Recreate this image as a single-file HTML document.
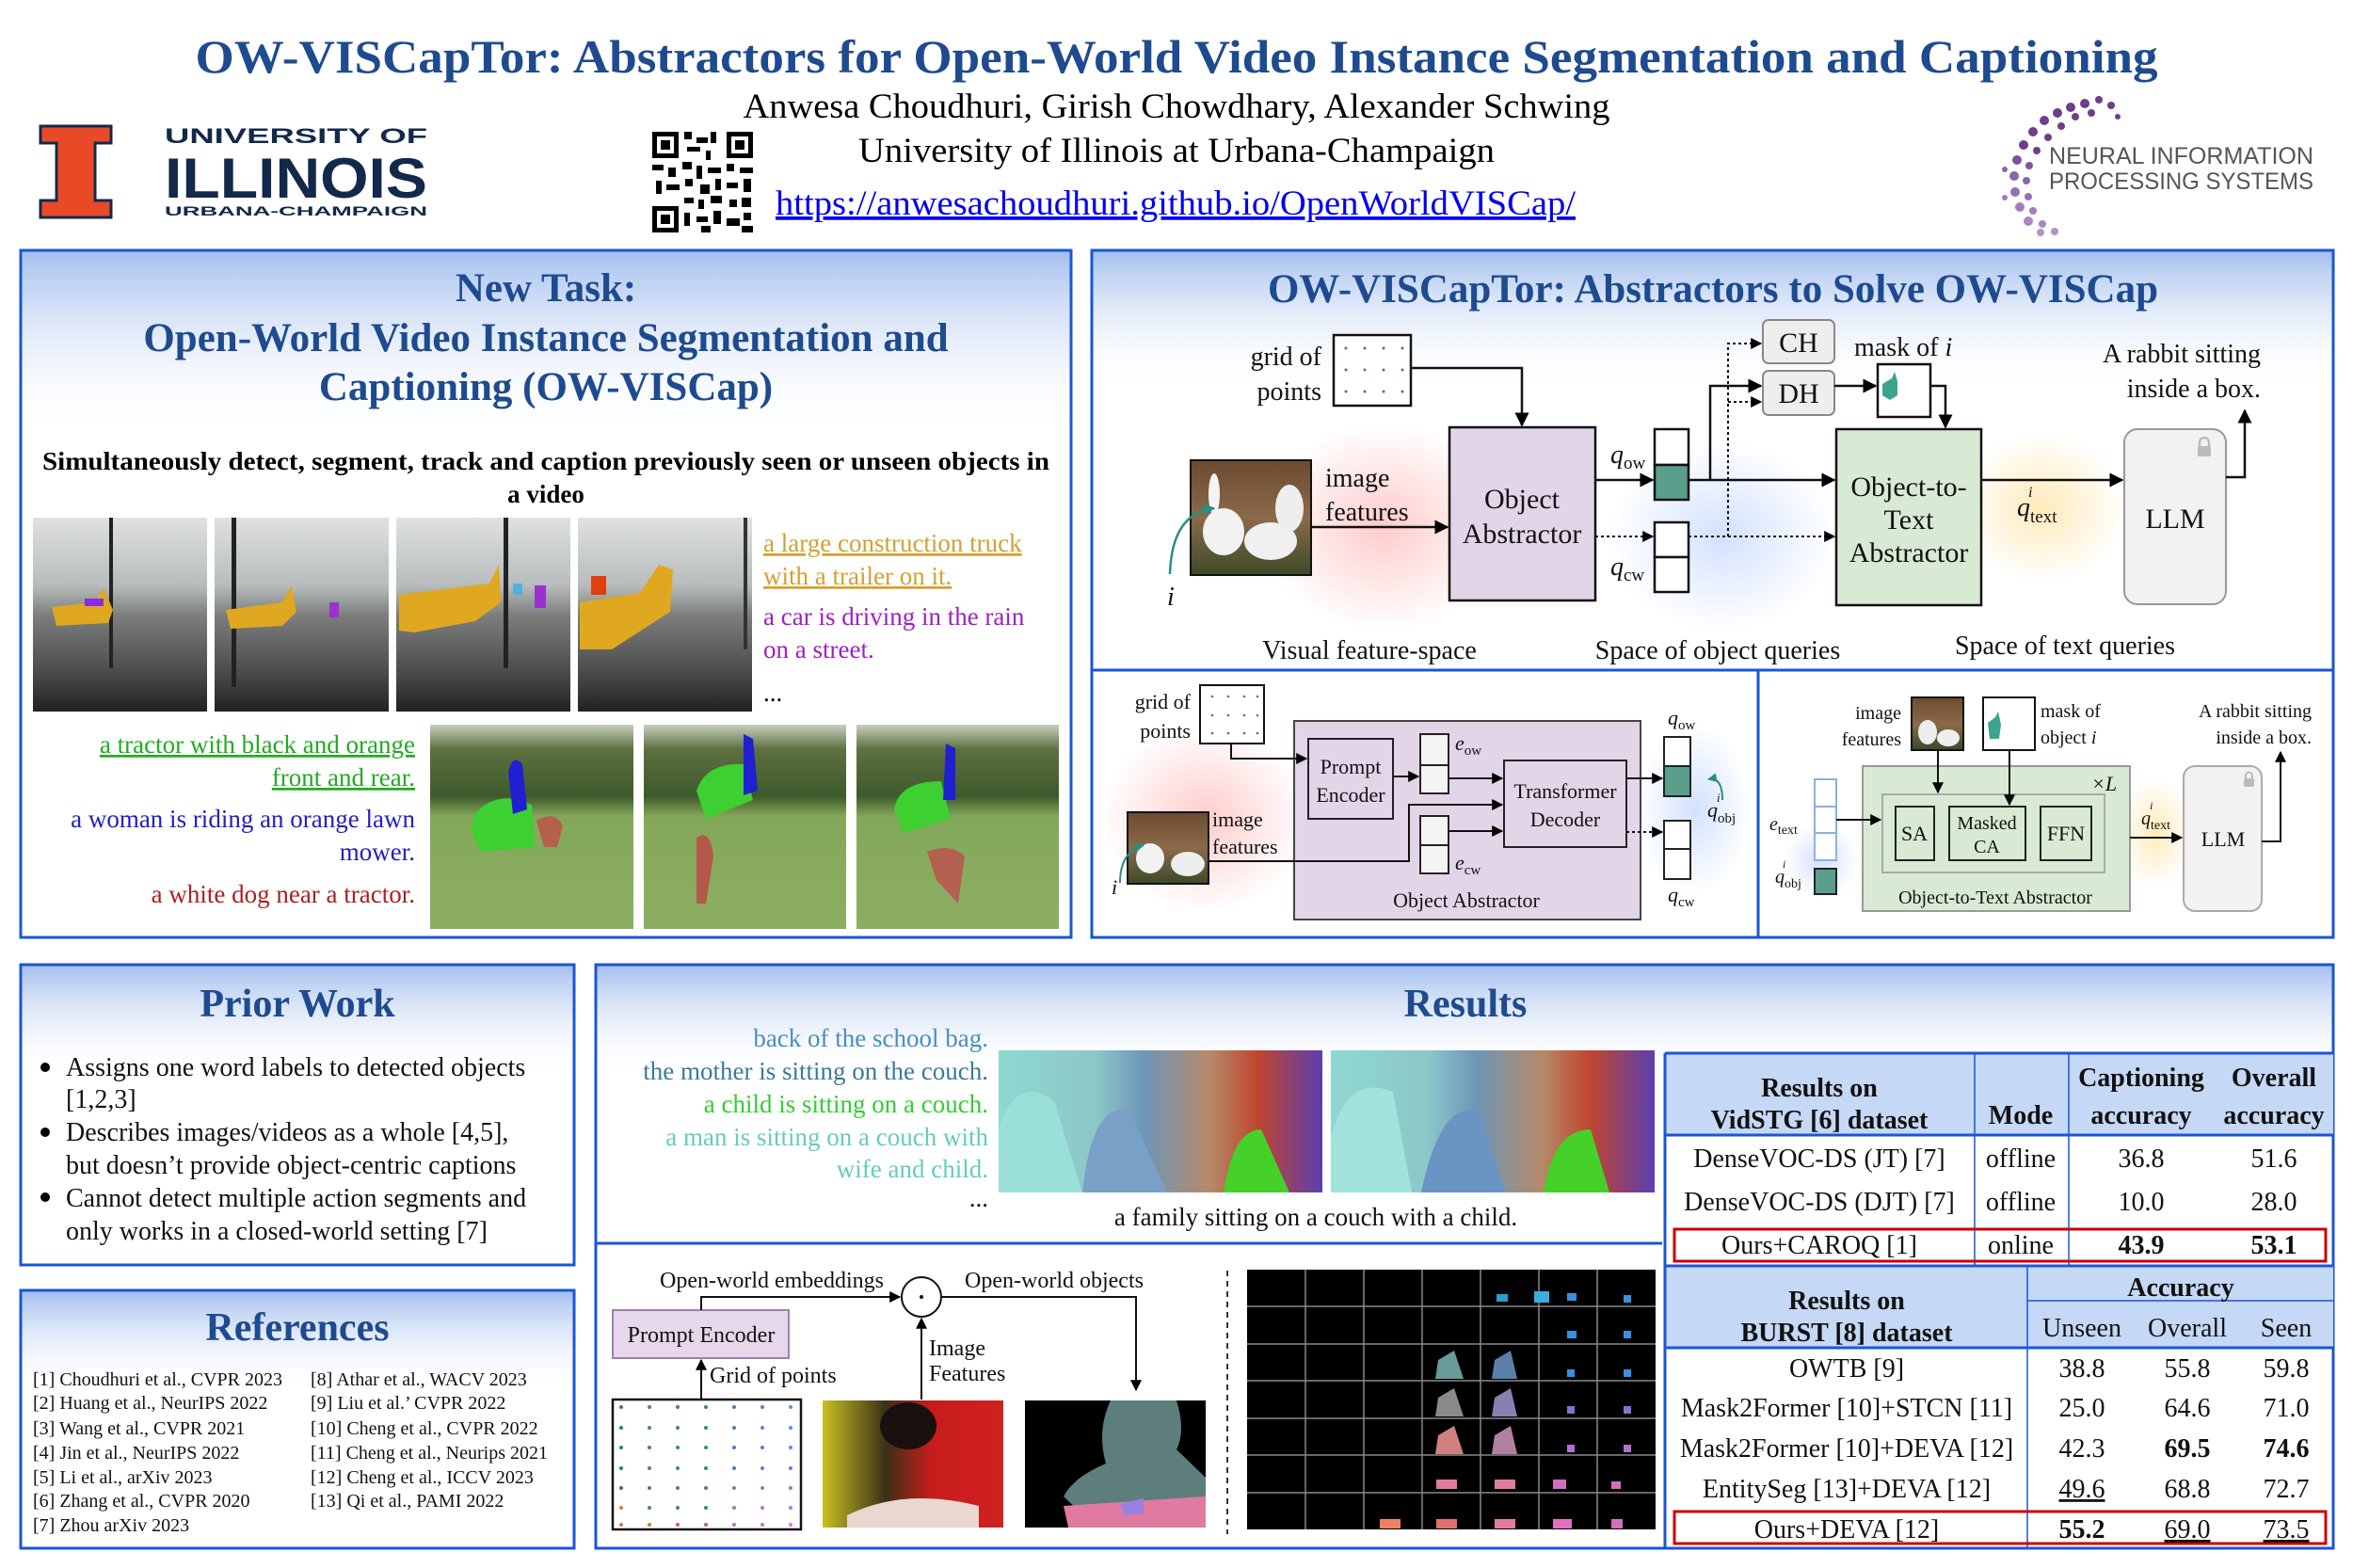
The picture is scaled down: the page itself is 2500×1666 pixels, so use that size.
<!DOCTYPE html>
<html><head><meta charset="utf-8"><style>html,body{margin:0;padding:0;background:#fff;}svg{display:block}</style></head>
<body>
<svg width="2500" height="1666" viewBox="0 0 2500 1666" xmlns="http://www.w3.org/2000/svg" font-family="'Liberation Serif', serif">
<defs>
<linearGradient id="hd" x1="0" y1="0" x2="0" y2="1"><stop offset="0" stop-color="#a3bfee"/><stop offset="1" stop-color="#fff" stop-opacity="0"/></linearGradient>
<marker id="ar" viewBox="0 0 10 10" refX="9" refY="5" markerWidth="6" markerHeight="6" orient="auto-start-reverse"><path d="M0,0 L10,5 L0,10 z" fill="#000"/></marker>
<marker id="art" viewBox="0 0 10 10" refX="9" refY="5" markerWidth="5" markerHeight="5" orient="auto"><path d="M0,0 L10,5 L0,10 z" fill="#2a8f80"/></marker>
<radialGradient id="rg"><stop offset="0" stop-color="#ff6b6b" stop-opacity="0.35"/><stop offset="1" stop-color="#ff6b6b" stop-opacity="0"/></radialGradient>
<radialGradient id="bg"><stop offset="0" stop-color="#6b9bff" stop-opacity="0.3"/><stop offset="1" stop-color="#6b9bff" stop-opacity="0"/></radialGradient>
<radialGradient id="yg"><stop offset="0" stop-color="#ffcc55" stop-opacity="0.4"/><stop offset="1" stop-color="#ffcc55" stop-opacity="0"/></radialGradient>
<linearGradient id="street" x1="0" y1="0" x2="0" y2="1"><stop offset="0" stop-color="#dfe1e2"/><stop offset="0.35" stop-color="#b8bcbc"/><stop offset="0.5" stop-color="#7c7f7d"/><stop offset="0.8" stop-color="#4a4c4c"/><stop offset="1" stop-color="#202222"/></linearGradient>
<linearGradient id="grass" x1="0" y1="0" x2="0" y2="1"><stop offset="0" stop-color="#c8cfc0"/><stop offset="0.12" stop-color="#5d7040"/><stop offset="0.35" stop-color="#3e5a2c"/><stop offset="0.45" stop-color="#84a85a"/><stop offset="1" stop-color="#8cae62"/></linearGradient>
<linearGradient id="fam" x1="0" y1="0" x2="1" y2="0"><stop offset="0" stop-color="#8fd8d0"/><stop offset="0.3" stop-color="#8cc7c8"/><stop offset="0.45" stop-color="#6e96b8"/><stop offset="0.65" stop-color="#b58a6a"/><stop offset="0.8" stop-color="#c0452e"/><stop offset="1" stop-color="#5a3fb0"/></linearGradient>
<linearGradient id="rab" x1="0" y1="0" x2="0" y2="1"><stop offset="0" stop-color="#6b4a30"/><stop offset="0.5" stop-color="#8b6a4a"/><stop offset="1" stop-color="#3b4a28"/></linearGradient>
<linearGradient id="photo" x1="0" y1="0" x2="1" y2="0"><stop offset="0" stop-color="#c8c020"/><stop offset="0.35" stop-color="#3a3018"/><stop offset="0.6" stop-color="#c81c1c"/><stop offset="1" stop-color="#d02020"/></linearGradient>
</defs>

<!-- Header -->
<text x="1250" y="77" text-anchor="middle" font-size="50" font-weight="bold" fill="#1e4b8f" textLength="2085" lengthAdjust="spacingAndGlyphs">OW-VISCapTor: Abstractors for Open-World Video Instance Segmentation and Captioning</text>
<text x="1250" y="125" text-anchor="middle" font-size="37" fill="#000" textLength="921" lengthAdjust="spacingAndGlyphs">Anwesa Choudhuri, Girish Chowdhary, Alexander Schwing</text>
<text x="1250" y="172" text-anchor="middle" font-size="37" fill="#000" textLength="676" lengthAdjust="spacingAndGlyphs">University of Illinois at Urbana-Champaign</text>
<text x="1249" y="228" text-anchor="middle" font-size="37" fill="#0000ee" text-decoration="underline" textLength="850" lengthAdjust="spacingAndGlyphs">https://anwesachoudhuri.github.io/OpenWorldVISCap/</text>

<!-- Illinois logo -->
<path d="M43,134 H118 V152 H101 V213 H118 V231 H43 V213 H60 V152 H43 Z" fill="#e84a27" stroke="#13294b" stroke-width="3"/>
<g font-family="'Liberation Sans', sans-serif" fill="#13294b" font-weight="bold">
<text x="175" y="152" font-size="22" textLength="279" lengthAdjust="spacingAndGlyphs">UNIVERSITY OF</text>
<text x="175" y="210" font-size="60" textLength="279" lengthAdjust="spacingAndGlyphs">ILLINOIS</text>
<text x="175" y="229" font-size="14" textLength="279" lengthAdjust="spacingAndGlyphs">URBANA-CHAMPAIGN</text>
</g>

<!-- QR -->
<g fill="#000">
<rect x="693" y="140" width="107" height="107" fill="#fff"/>
<rect x="693" y="140" width="28" height="28"/><rect x="698" y="145" width="18" height="18" fill="#fff"/><rect x="702" y="149" width="10" height="10"/>
<rect x="772" y="140" width="28" height="28"/><rect x="777" y="145" width="18" height="18" fill="#fff"/><rect x="781" y="149" width="10" height="10"/>
<rect x="693" y="219" width="28" height="28"/><rect x="698" y="224" width="18" height="18" fill="#fff"/><rect x="702" y="228" width="10" height="10"/>
<rect x="727" y="140" width="8" height="8"/><rect x="740" y="146" width="12" height="6"/><rect x="755" y="140" width="6" height="12"/><rect x="730" y="156" width="14" height="5"/><rect x="750" y="160" width="5" height="10"/>
<rect x="693" y="175" width="12" height="6"/><rect x="710" y="178" width="8" height="10"/><rect x="725" y="172" width="10" height="8"/><rect x="740" y="176" width="6" height="14"/><rect x="752" y="178" width="14" height="6"/><rect x="772" y="174" width="8" height="8"/><rect x="786" y="178" width="14" height="6"/>
<rect x="697" y="192" width="6" height="14"/><rect x="708" y="196" width="14" height="6"/><rect x="728" y="190" width="8" height="8"/><rect x="744" y="196" width="10" height="10"/><rect x="760" y="190" width="6" height="12"/><rect x="772" y="194" width="12" height="6"/><rect x="790" y="190" width="8" height="14"/>
<rect x="727" y="210" width="10" height="6"/><rect x="742" y="212" width="6" height="10"/><rect x="755" y="208" width="12" height="8"/><rect x="775" y="212" width="8" height="8"/><rect x="788" y="210" width="10" height="10"/>
<rect x="727" y="226" width="6" height="14"/><rect x="740" y="230" width="12" height="6"/><rect x="758" y="224" width="8" height="14"/><rect x="772" y="232" width="14" height="8"/><rect x="790" y="226" width="8" height="8"/><rect x="745" y="240" width="10" height="7"/><rect x="788" y="240" width="12" height="7"/>
</g>

<!-- NeurIPS logo -->
<g fill="#6b3f8c">
<circle cx="2215" cy="110" r="5"/><circle cx="2230" cy="106" r="4"/><circle cx="2200" cy="114" r="5"/><circle cx="2243" cy="112" r="4"/><circle cx="2186" cy="120" r="5"/><circle cx="2205" cy="124" r="4"/><circle cx="2222" cy="120" r="4"/><circle cx="2172" cy="128" r="5"/><circle cx="2190" cy="134" r="4"/><circle cx="2250" cy="124" r="3"/><circle cx="2160" cy="140" r="5"/><circle cx="2176" cy="146" r="4"/><circle cx="2150" cy="154" r="5"/><circle cx="2164" cy="160" r="4"/>
<circle cx="2143" cy="170" r="5" fill="#7d54a0"/><circle cx="2156" cy="176" r="4" fill="#7d54a0"/><circle cx="2140" cy="187" r="5" fill="#8a64ac"/><circle cx="2153" cy="192" r="4" fill="#8a64ac"/><circle cx="2141" cy="204" r="5" fill="#966fb4"/><circle cx="2155" cy="209" r="4" fill="#966fb4"/><circle cx="2146" cy="220" r="5" fill="#a07cbc"/><circle cx="2160" cy="224" r="4" fill="#a07cbc"/><circle cx="2155" cy="235" r="5" fill="#a888c2"/><circle cx="2170" cy="238" r="4" fill="#a888c2"/><circle cx="2168" cy="247" r="4" fill="#b094c8"/><circle cx="2183" cy="246" r="4" fill="#b094c8"/><circle cx="2130" cy="180" r="3" fill="#8a64ac"/><circle cx="2130" cy="210" r="3" fill="#a07cbc"/>
</g>
<g font-family="'Liberation Sans', sans-serif" fill="#555" font-size="25">
<text x="2177" y="174" textLength="281" lengthAdjust="spacingAndGlyphs">NEURAL INFORMATION</text>
<text x="2177" y="201" textLength="281" lengthAdjust="spacingAndGlyphs">PROCESSING SYSTEMS</text>
</g>

<!-- Panel 1: New Task -->
<rect x="22" y="266" width="1116" height="200" fill="url(#hd)"/>
<rect x="22" y="266" width="1116" height="730" fill="none" stroke="#1a56d6" stroke-width="3"/>
<g font-weight="bold" fill="#1e4b8f" font-size="43" text-anchor="middle">
<text x="580" y="320">New Task:</text>
<text x="580" y="373">Open-World Video Instance Segmentation and</text>
<text x="580" y="425">Captioning (OW-VISCap)</text>
</g>
<text x="580" y="499" text-anchor="middle" font-size="27" font-weight="bold" textLength="1070" lengthAdjust="spacingAndGlyphs">Simultaneously detect, segment, track and caption previously seen or unseen objects in</text>
<text x="580" y="534" text-anchor="middle" font-size="27" font-weight="bold">a video</text>
<g>
<rect x="35" y="550" width="185" height="206" fill="url(#street)"/>
<rect x="228" y="550" width="185" height="206" fill="url(#street)"/>
<rect x="421" y="550" width="185" height="206" fill="url(#street)"/>
<rect x="614" y="550" width="185" height="206" fill="url(#street)"/>
<rect x="116" y="550" width="4" height="160" fill="#222"/><rect x="246" y="550" width="5" height="180" fill="#222"/><rect x="535" y="550" width="5" height="160" fill="#222"/><rect x="790" y="550" width="4" height="140" fill="#333"/>
<path d="M55,645 L100,640 L110,625 L120,648 L115,662 L60,665 Z" fill="#e0a820"/><rect x="90" y="636" width="20" height="8" fill="#8a2be2"/>
<path d="M240,648 L300,640 L310,622 L315,650 L300,665 L245,668 Z" fill="#e0a820"/><rect x="350" y="640" width="10" height="16" fill="#9b30d0"/>
<path d="M424,632 L520,620 L530,600 L532,640 L505,660 L440,672 L424,670 Z" fill="#e0a820"/><rect x="568" y="622" width="12" height="24" fill="#9b30d0"/><rect x="545" y="620" width="10" height="12" fill="#4fb0e0"/>
<path d="M616,640 L680,630 L700,600 L715,605 L712,650 L650,690 L616,690 Z" fill="#e0a820"/><rect x="628" y="612" width="16" height="20" fill="#e04010"/>
</g>
<g font-size="27">
<text x="811" y="586" fill="#d4a030" text-decoration="underline">a large construction truck</text>
<text x="811" y="621" fill="#d4a030" text-decoration="underline">with a trailer on it.</text>
<text x="811" y="664" fill="#a020c0">a car is driving in the rain</text>
<text x="811" y="699" fill="#a020c0">on a street.</text>
<text x="811" y="745" fill="#000">...</text>
<g text-anchor="end">
<text x="441" y="800" fill="#22aa22" text-decoration="underline">a tractor with black and orange</text>
<text x="441" y="835" fill="#22aa22" text-decoration="underline">front and rear.</text>
<text x="441" y="879" fill="#2020c0">a woman is riding an orange lawn</text>
<text x="441" y="914" fill="#2020c0">mower.</text>
<text x="441" y="959" fill="#aa2020">a white dog near a tractor.</text>
</g>
</g>
<g>
<rect x="457" y="770" width="216" height="217" fill="url(#grass)"/>
<rect x="684" y="770" width="215" height="217" fill="url(#grass)"/>
<rect x="910" y="770" width="215" height="217" fill="url(#grass)"/>
<path d="M500,880 Q505,850 540,848 L565,855 L568,900 L510,905 Z" fill="#3ecf30"/><path d="M540,820 Q545,800 555,812 L560,860 L545,865 Z" fill="#2020d0"/><path d="M570,872 Q590,860 598,878 L592,900 L578,900 Z" fill="#b4604a"/>
<path d="M740,840 Q750,810 790,812 L800,850 L750,870 Z" fill="#3ecf30"/><path d="M790,780 L800,785 L805,840 L790,845 Z" fill="#2020d0"/><path d="M740,890 Q755,880 758,910 L750,960 L740,960 Z" fill="#b4584a"/>
<path d="M950,860 Q955,830 1000,830 L1010,870 L960,885 Z" fill="#3ecf30"/><path d="M1005,790 L1015,795 L1015,850 L1002,850 Z" fill="#2020d0"/><path d="M985,905 Q1010,895 1025,910 L1018,960 L995,935 Z" fill="#b46050"/>
</g>

<!-- Panel 2 -->
<rect x="1160" y="266" width="1319" height="150" fill="url(#hd)"/>
<rect x="1160" y="266" width="1319" height="730" fill="none" stroke="#1a56d6" stroke-width="3"/>
<line x1="1160" y1="712" x2="2479" y2="712" stroke="#1a56d6" stroke-width="3"/>
<line x1="1868" y1="712" x2="1868" y2="996" stroke="#1a56d6" stroke-width="3"/>
<text x="1820" y="321" text-anchor="middle" font-size="43" font-weight="bold" fill="#1e4b8f">OW-VISCapTor: Abstractors to Solve OW-VISCap</text>
<ellipse cx="1470" cy="560" rx="130" ry="110" fill="url(#rg)"/>
<ellipse cx="1830" cy="570" rx="120" ry="100" fill="url(#bg)"/>
<ellipse cx="2170" cy="540" rx="90" ry="80" fill="url(#yg)"/>
<rect x="1417" y="356" width="82" height="75" fill="#fff" stroke="#111" stroke-width="2.5"/>
<g fill="#7a5aa0"><circle cx="1430" cy="370" r="1.5"/><circle cx="1450" cy="370" r="1.5"/><circle cx="1470" cy="370" r="1.5"/><circle cx="1490" cy="370" r="1.5"/><circle cx="1430" cy="393" r="1.5"/><circle cx="1450" cy="393" r="1.5"/><circle cx="1470" cy="393" r="1.5"/><circle cx="1490" cy="393" r="1.5"/><circle cx="1430" cy="416" r="1.5"/><circle cx="1450" cy="416" r="1.5"/><circle cx="1470" cy="416" r="1.5"/><circle cx="1490" cy="416" r="1.5"/></g>
<rect x="1540" y="454" width="155" height="184" fill="#e3d5e8" stroke="#111" stroke-width="2.5"/>
<rect x="1951" y="456" width="154" height="187" fill="#d8ead3" stroke="#111" stroke-width="2.5"/>
<rect x="2257" y="456" width="108" height="186" rx="14" fill="#f2f2f2" stroke="#999" stroke-width="2"/>
<rect x="2335" y="474" width="14" height="11" rx="2" fill="#bbb"/><path d="M2337,475 v-5 a5,5 0 0 1 10,0 v5" fill="none" stroke="#bbb" stroke-width="2.5"/>
<rect x="1873" y="340" width="76" height="46" rx="6" fill="#eee" stroke="#888" stroke-width="2"/>
<rect x="1873" y="394" width="76" height="47" rx="6" fill="#eee" stroke="#888" stroke-width="2"/>
<rect x="1995" y="387" width="56" height="56" fill="#fff" stroke="#111" stroke-width="2.5"/>
<path d="M2000,408 L2010,402 L2013,395 L2016,405 L2016,420 L2008,425 L2000,420 Z" fill="#3aa58c"/>
<rect x="1265" y="489" width="128" height="122" fill="url(#rab)" stroke="#111" stroke-width="2"/>
<ellipse cx="1300" cy="565" rx="22" ry="25" fill="#f2f2f2"/><ellipse cx="1350" cy="575" rx="28" ry="20" fill="#f0f0f0"/><ellipse cx="1370" cy="540" rx="15" ry="25" fill="#eee"/><ellipse cx="1290" cy="525" rx="6" ry="22" fill="#f4f4f4"/>
<rect x="1758" y="456" width="36" height="38" fill="#fff" stroke="#111" stroke-width="2.5"/>
<rect x="1758" y="494" width="36" height="37" fill="#5a9e8c" stroke="#111" stroke-width="2.5"/>
<rect x="1758" y="555" width="36" height="37" fill="#fff" stroke="#111" stroke-width="2.5"/>
<rect x="1758" y="592" width="36" height="37" fill="#fff" stroke="#111" stroke-width="2.5"/>
<g stroke="#111" stroke-width="2.5" fill="none">
<path d="M1499,391 H1617 V452" marker-end="url(#ar)"/>
<path d="M1393,560 H1538" marker-end="url(#ar)"/>
<path d="M1695,510 H1756" marker-end="url(#ar)"/>
<path d="M1794,510 H1949" marker-end="url(#ar)"/>
<path d="M1817,510 V410 H1871" marker-end="url(#ar)"/>
<path d="M1949,410 H1993" marker-end="url(#ar)"/>
<path d="M2051,410 H2067 V454" marker-end="url(#ar)"/>
<path d="M2105,510 H2255" marker-end="url(#ar)"/>
<path d="M2365,507 H2385 V436" marker-end="url(#ar)"/>
<g stroke-dasharray="3,3" stroke-width="2">
<path d="M1695,570 H1756" marker-end="url(#ar)"/>
<path d="M1794,570 H1949" marker-end="url(#ar)"/>
<path d="M1836,570 V365 H1871" marker-end="url(#ar)"/>
<path d="M1836,427 H1871" marker-end="url(#ar)"/>
</g>
</g>
<path d="M1243,610 Q1245,545 1290,540" fill="none" stroke="#2a8f80" stroke-width="2.5" marker-end="url(#art)"/>
<g font-size="28" fill="#111">
<text x="1404" y="388" text-anchor="end">grid of</text>
<text x="1404" y="425" text-anchor="end">points</text>
<text x="1408" y="517">image</text>
<text x="1408" y="553">features</text>
<text x="1617" y="540" text-anchor="middle" font-size="30">Object</text>
<text x="1617" y="577" text-anchor="middle" font-size="30">Abstractor</text>
<text x="2028" y="527" text-anchor="middle" font-size="30">Object-to-</text>
<text x="2028" y="562" text-anchor="middle" font-size="30">Text</text>
<text x="2028" y="597" text-anchor="middle" font-size="30">Abstractor</text>
<text x="2311" y="561" text-anchor="middle" font-size="30">LLM</text>
<text x="1911" y="374" text-anchor="middle" font-size="30">CH</text>
<text x="1911" y="428" text-anchor="middle" font-size="30">DH</text>
<text x="1970" y="378">mask of <tspan font-style="italic">i</tspan></text>
<text x="2402" y="385" text-anchor="end">A rabbit sitting</text>
<text x="2402" y="422" text-anchor="end">inside a box.</text>
<text x="1711" y="492" font-style="italic">q<tspan font-size="19" font-style="normal" dy="6">ow</tspan></text>
<text x="1711" y="611" font-style="italic">q<tspan font-size="19" font-style="normal" dy="6">cw</tspan></text>
<text x="2143" y="548" font-style="italic">q<tspan font-size="19" font-style="normal" dy="7">text</tspan></text>
<text x="2155" y="528" font-size="16" font-style="italic">i</text>
<text x="1240" y="643" font-style="italic">i</text>
<text x="1455" y="700" text-anchor="middle">Visual feature-space</text>
<text x="1825" y="700" text-anchor="middle">Space of object queries</text>
<text x="2194" y="695" text-anchor="middle">Space of text queries</text>
</g>

<!-- bottom-left sub-diagram -->
<ellipse cx="1280" cy="870" rx="110" ry="100" fill="url(#rg)"/>
<ellipse cx="1800" cy="860" rx="60" ry="90" fill="url(#bg)"/>
<rect x="1375" y="766" width="368" height="211" fill="#e3d5e8" stroke="#444" stroke-width="2"/>
<rect x="1275" y="728" width="68" height="62" fill="#fff" stroke="#111" stroke-width="2"/>
<g fill="#7a5aa0"><circle cx="1288" cy="740" r="1.3"/><circle cx="1305" cy="740" r="1.3"/><circle cx="1322" cy="740" r="1.3"/><circle cx="1336" cy="740" r="1.3"/><circle cx="1288" cy="760" r="1.3"/><circle cx="1305" cy="760" r="1.3"/><circle cx="1322" cy="760" r="1.3"/><circle cx="1336" cy="760" r="1.3"/><circle cx="1288" cy="779" r="1.3"/><circle cx="1305" cy="779" r="1.3"/><circle cx="1322" cy="779" r="1.3"/><circle cx="1336" cy="779" r="1.3"/></g>
<rect x="1390" y="785" width="90" height="85" fill="none" stroke="#222" stroke-width="2"/>
<rect x="1598" y="808" width="130" height="92" fill="none" stroke="#222" stroke-width="2"/>
<rect x="1509" y="780" width="30" height="33" fill="#f4f4f4" stroke="#222" stroke-width="2"/><rect x="1509" y="813" width="30" height="30" fill="#f4f4f4" stroke="#222" stroke-width="2"/>
<rect x="1509" y="867" width="30" height="31" fill="#f4f4f4" stroke="#222" stroke-width="2"/><rect x="1509" y="898" width="30" height="30" fill="#f4f4f4" stroke="#222" stroke-width="2"/>
<rect x="1768" y="783" width="28" height="31" fill="#fff" stroke="#222" stroke-width="2"/><rect x="1768" y="814" width="28" height="32" fill="#5a9e8c" stroke="#222" stroke-width="2"/>
<rect x="1768" y="872" width="28" height="30" fill="#fff" stroke="#222" stroke-width="2"/><rect x="1768" y="902" width="28" height="32" fill="#fff" stroke="#222" stroke-width="2"/>
<rect x="1198" y="863" width="86" height="76" fill="url(#rab)" stroke="#111" stroke-width="2"/>
<ellipse cx="1222" cy="912" rx="15" ry="16" fill="#f2f2f2"/><ellipse cx="1262" cy="918" rx="18" ry="13" fill="#eee"/>
<g font-size="22" fill="#111">
<text x="1265" y="753" text-anchor="end">grid of</text>
<text x="1265" y="784" text-anchor="end">points</text>
<text x="1288" y="878">image</text>
<text x="1288" y="907">features</text>
<text x="1181" y="950" font-style="italic">i</text>
<text x="1435" y="822" text-anchor="middle">Prompt</text>
<text x="1435" y="852" text-anchor="middle">Encoder</text>
<text x="1663" y="848" text-anchor="middle">Transformer</text>
<text x="1663" y="878" text-anchor="middle">Decoder</text>
<text x="1558" y="964" text-anchor="middle">Object Abstractor</text>
<text x="1546" y="797" font-style="italic">e<tspan font-size="15" font-style="normal" dy="5">ow</tspan></text>
<text x="1546" y="924" font-style="italic">e<tspan font-size="15" font-style="normal" dy="5">cw</tspan></text>
<text x="1772" y="770" font-style="italic">q<tspan font-size="15" font-style="normal" dy="5">ow</tspan></text>
<text x="1772" y="958" font-style="italic">q<tspan font-size="15" font-style="normal" dy="5">cw</tspan></text>
<text x="1814" y="868" font-style="italic">q<tspan font-size="15" font-style="normal" dy="6">obj</tspan></text>
<text x="1824" y="852" font-size="13" font-style="italic">i</text>
</g>
<g stroke="#111" stroke-width="2" fill="none">
<path d="M1308,790 V806 H1388" marker-end="url(#ar)"/>
<path d="M1480,825 H1507" marker-end="url(#ar)"/>
<path d="M1539,827 H1596" marker-end="url(#ar)"/>
<path d="M1284,915 H1497 V855 H1596" marker-end="url(#ar)"/>
<path d="M1539,883 H1596" marker-end="url(#ar)"/>
<path d="M1728,827 H1766" marker-end="url(#ar)"/>
<path d="M1728,884 H1766" stroke-dasharray="3,3" marker-end="url(#ar)"/>
</g>
<path d="M1190,938 Q1190,905 1215,898" fill="none" stroke="#2a8f80" stroke-width="2" marker-end="url(#art)"/>
<path d="M1830,850 Q1830,825 1815,828" fill="none" stroke="#2a8f80" stroke-width="2" marker-end="url(#art)"/>

<!-- bottom-right sub-diagram -->
<ellipse cx="1935" cy="915" rx="40" ry="40" fill="url(#bg)"/>
<ellipse cx="2290" cy="885" rx="40" ry="60" fill="url(#yg)"/>
<rect x="1979" y="814" width="284" height="154" fill="#d8ead3" stroke="#999" stroke-width="2"/>
<rect x="2000" y="844" width="236" height="83" fill="none" stroke="#aaa" stroke-width="2"/>
<rect x="2014" y="857" width="41" height="57" fill="none" stroke="#222" stroke-width="2"/>
<rect x="2071" y="857" width="81" height="57" fill="none" stroke="#222" stroke-width="2"/>
<rect x="2168" y="857" width="54" height="57" fill="none" stroke="#222" stroke-width="2"/>
<rect x="2320" y="814" width="83" height="154" rx="12" fill="#f2f2f2" stroke="#aaa" stroke-width="2"/>
<rect x="2384" y="827" width="11" height="9" rx="2" fill="#bbb"/><path d="M2386,828 v-4 a3.5,3.5 0 0 1 7,0 v4" fill="none" stroke="#bbb" stroke-width="2"/>
<rect x="2031" y="741" width="55" height="56" fill="url(#rab)" stroke="#111" stroke-width="2"/>
<ellipse cx="2048" cy="778" rx="10" ry="13" fill="#eee"/><ellipse cx="2070" cy="784" rx="12" ry="9" fill="#eee"/>
<rect x="2107" y="741" width="55" height="56" fill="#fff" stroke="#111" stroke-width="2"/>
<path d="M2112,768 L2120,762 L2123,756 L2126,770 L2124,785 L2114,785 Z" fill="#3aa58c"/>
<rect x="1928" y="828" width="23" height="29" fill="#fff" stroke="#8fb0e0" stroke-width="2"/><rect x="1928" y="857" width="23" height="28" fill="#fff" stroke="#8fb0e0" stroke-width="2"/><rect x="1928" y="885" width="23" height="29" fill="#fff" stroke="#8fb0e0" stroke-width="2"/>
<rect x="1928" y="923" width="23" height="27" fill="#5a9e8c" stroke="#222" stroke-width="2"/>
<g stroke="#111" stroke-width="2" fill="none">
<path d="M2059,797 V842" marker-end="url(#ar)"/>
<path d="M2135,797 V855" marker-end="url(#ar)"/>
<path d="M1951,871 H1998" marker-end="url(#ar)"/>
<path d="M2263,890 H2318" marker-end="url(#ar)"/>
<path d="M2403,894 H2423 V799" marker-end="url(#ar)"/>
</g>
<g font-size="20" fill="#111">
<text x="2020" y="764" text-anchor="end">image</text>
<text x="2020" y="792" text-anchor="end">features</text>
<text x="2168" y="762">mask of</text>
<text x="2168" y="790">object <tspan font-style="italic">i</tspan></text>
<text x="2456" y="762" text-anchor="end">A rabbit sitting</text>
<text x="2456" y="790" text-anchor="end">inside a box.</text>
<text x="2222" y="840" font-style="italic" font-size="22">×L</text>
<text x="2034" y="893" text-anchor="middle" font-size="22">SA</text>
<text x="2111" y="881" text-anchor="middle">Masked</text>
<text x="2111" y="906" text-anchor="middle">CA</text>
<text x="2195" y="893" text-anchor="middle" font-size="22">FFN</text>
<text x="2120" y="960" text-anchor="middle">Object-to-Text Abstractor</text>
<text x="2362" y="899" text-anchor="middle" font-size="22">LLM</text>
<text x="1880" y="882" font-style="italic">e<tspan font-size="14" font-style="normal" dy="4">text</tspan></text>
<text x="1886" y="938" font-style="italic">q<tspan font-size="14" font-style="normal" dy="5">obj</tspan></text>
<text x="1894" y="922" font-size="12" font-style="italic">i</text>
<text x="2275" y="876" font-style="italic">q<tspan font-size="14" font-style="normal" dy="5">text</tspan></text>
<text x="2284" y="860" font-size="12" font-style="italic">i</text>
</g>

<!-- Prior Work -->
<rect x="22" y="1025" width="588" height="120" fill="url(#hd)"/>
<rect x="22" y="1025" width="588" height="319" fill="none" stroke="#1a56d6" stroke-width="3"/>
<text x="316" y="1080" text-anchor="middle" font-size="42" font-weight="bold" fill="#1e4b8f">Prior Work</text>
<g font-size="28" fill="#111">
<circle cx="48" cy="1134" r="5" fill="#000"/><circle cx="48" cy="1203" r="5" fill="#000"/><circle cx="48" cy="1272" r="5" fill="#000"/>
<text x="70" y="1143">Assigns one word labels to detected objects</text>
<text x="70" y="1177">[1,2,3]</text>
<text x="70" y="1212">Describes images/videos as a whole [4,5],</text>
<text x="70" y="1247">but doesn’t provide object-centric captions</text>
<text x="70" y="1282">Cannot detect multiple action segments and</text>
<text x="70" y="1317">only works in a closed-world setting [7]</text>
</g>

<!-- References -->
<rect x="22" y="1371" width="588" height="110" fill="url(#hd)"/>
<rect x="22" y="1371" width="588" height="274" fill="none" stroke="#1a56d6" stroke-width="3"/>
<text x="316" y="1424" text-anchor="middle" font-size="42" font-weight="bold" fill="#1e4b8f">References</text>
<g font-size="20" fill="#111">
<text x="35" y="1472">[1] Choudhuri et al., CVPR 2023</text>
<text x="35" y="1497">[2] Huang et al., NeurIPS 2022</text>
<text x="35" y="1524">[3] Wang et al., CVPR 2021</text>
<text x="35" y="1550">[4] Jin et al., NeurIPS 2022</text>
<text x="35" y="1576">[5] Li et al., arXiv 2023</text>
<text x="35" y="1601">[6] Zhang et al., CVPR 2020</text>
<text x="35" y="1627">[7] Zhou arXiv 2023</text>
<text x="330" y="1472">[8] Athar et al., WACV 2023</text>
<text x="330" y="1497">[9] Liu et al.’ CVPR 2022</text>
<text x="330" y="1524">[10] Cheng et al., CVPR 2022</text>
<text x="330" y="1550">[11] Cheng et al., Neurips 2021</text>
<text x="330" y="1576">[12] Cheng et al., ICCV 2023</text>
<text x="330" y="1601">[13] Qi et al., PAMI 2022</text>
</g>

<!-- Results -->
<rect x="633" y="1025" width="1846" height="120" fill="url(#hd)"/>
<rect x="633" y="1025" width="1846" height="620" fill="none" stroke="#1a56d6" stroke-width="3"/>
<line x1="633" y1="1321" x2="1766" y2="1321" stroke="#1a56d6" stroke-width="3"/>
<text x="1557" y="1080" text-anchor="middle" font-size="42" font-weight="bold" fill="#1e4b8f">Results</text>
<g font-size="27" text-anchor="end">
<text x="1050" y="1112" fill="#4a8ec0">back of the school bag.</text>
<text x="1050" y="1147" fill="#3a7a9a">the mother is sitting on the couch.</text>
<text x="1050" y="1182" fill="#33cc33">a child is sitting on a couch.</text>
<text x="1050" y="1217" fill="#66ccbb">a man is sitting on a couch with</text>
<text x="1050" y="1251" fill="#66ccbb">wife and child.</text>
<text x="1050" y="1282" fill="#111">...</text>
</g>
<rect x="1061" y="1116" width="344" height="151" fill="url(#fam)"/>
<rect x="1414" y="1116" width="344" height="151" fill="url(#fam)"/>
<path d="M1061,1200 Q1080,1140 1120,1170 L1150,1267 L1061,1267 Z" fill="#9be0d8"/><path d="M1150,1267 Q1160,1170 1200,1180 L1240,1267 Z" fill="#7aa0c8"/><path d="M1300,1267 Q1310,1200 1340,1200 L1370,1267 Z" fill="#45d02a"/>
<path d="M1414,1210 Q1430,1140 1480,1160 L1500,1267 L1414,1267 Z" fill="#a0e4dc"/><path d="M1510,1267 Q1530,1170 1570,1180 L1600,1267 Z" fill="#6a94c4"/><path d="M1640,1267 Q1650,1200 1690,1200 L1710,1267 Z" fill="#45d02a"/>
<text x="1398" y="1302" text-anchor="middle" font-size="27" fill="#111">a family sitting on a couch with a child.</text>

<rect x="651" y="1392" width="187" height="51" fill="#e6d7ea" stroke="#a080b0" stroke-width="2"/>
<circle cx="979" cy="1378" r="21" fill="#fff" stroke="#111" stroke-width="2"/><circle cx="979" cy="1378" r="2" fill="#111"/>
<g stroke="#111" stroke-width="2" fill="none">
<path d="M745,1392 V1378 H956" marker-end="url(#ar)"/>
<path d="M1000,1378 H1207 V1477" marker-end="url(#ar)"/>
<path d="M979,1487 V1401" marker-end="url(#ar)"/>
<path d="M745,1487 V1445" marker-end="url(#ar)"/>
</g>
<g font-size="24" fill="#111">
<text x="820" y="1368" text-anchor="middle">Open-world embeddings</text>
<text x="1120" y="1368" text-anchor="middle">Open-world objects</text>
<text x="987" y="1440">Image</text>
<text x="987" y="1467">Features</text>
<text x="754" y="1469">Grid of points</text>
<text x="745" y="1426" text-anchor="middle">Prompt Encoder</text>
</g>
<rect x="651" y="1487" width="200" height="138" fill="#fff" stroke="#111" stroke-width="2.5"/>
<g>
<g fill="#2a8a40"><circle cx="660" cy="1495" r="2"/><circle cx="660" cy="1517" r="2"/><circle cx="660" cy="1538" r="2"/><circle cx="660" cy="1560" r="2"/><circle cx="660" cy="1581" r="2"/><circle cx="660" cy="1602" r="2" fill="#d08030"/><circle cx="660" cy="1620" r="2" fill="#d08030"/></g>
<g fill="#4a8a60"><circle cx="690" cy="1495" r="2"/><circle cx="690" cy="1517" r="2"/><circle cx="690" cy="1538" r="2"/><circle cx="690" cy="1560" r="2"/><circle cx="690" cy="1581" r="2"/><circle cx="690" cy="1602" r="2"/><circle cx="690" cy="1620" r="2" fill="#d08030"/></g>
<g fill="#3a8a80"><circle cx="720" cy="1495" r="2"/><circle cx="720" cy="1517" r="2"/><circle cx="720" cy="1538" r="2"/><circle cx="720" cy="1560" r="2"/><circle cx="720" cy="1581" r="2"/><circle cx="720" cy="1602" r="2"/><circle cx="720" cy="1620" r="2" fill="#d06050"/></g>
<g fill="#3a80a0"><circle cx="750" cy="1495" r="2"/><circle cx="750" cy="1517" r="2"/><circle cx="750" cy="1538" r="2"/><circle cx="750" cy="1560" r="2"/><circle cx="750" cy="1581" r="2"/><circle cx="750" cy="1602" r="2"/><circle cx="750" cy="1620" r="2" fill="#c06080"/></g>
<g fill="#4a80c0"><circle cx="780" cy="1495" r="2"/><circle cx="780" cy="1517" r="2"/><circle cx="780" cy="1538" r="2"/><circle cx="780" cy="1560" r="2"/><circle cx="780" cy="1581" r="2" fill="#9070c0"/><circle cx="780" cy="1602" r="2" fill="#b070c0"/><circle cx="780" cy="1620" r="2" fill="#c070c0"/></g>
<g fill="#5a80d0"><circle cx="810" cy="1495" r="2"/><circle cx="810" cy="1517" r="2"/><circle cx="810" cy="1538" r="2"/><circle cx="810" cy="1560" r="2" fill="#8070d0"/><circle cx="810" cy="1581" r="2" fill="#a070d0"/><circle cx="810" cy="1602" r="2" fill="#c070d0"/><circle cx="810" cy="1620" r="2" fill="#d070d0"/></g>
<g fill="#5a90e0"><circle cx="840" cy="1495" r="2"/><circle cx="840" cy="1517" r="2"/><circle cx="840" cy="1538" r="2"/><circle cx="840" cy="1560" r="2" fill="#8070e0"/><circle cx="840" cy="1581" r="2" fill="#a070e0"/><circle cx="840" cy="1602" r="2" fill="#c070e0"/><circle cx="840" cy="1620" r="2" fill="#e070e0"/></g>
</g>
<rect x="874" y="1488" width="192" height="135" fill="url(#photo)"/>
<ellipse cx="965" cy="1515" rx="30" ry="25" fill="#1a1010"/><path d="M900,1610 Q960,1580 1040,1600 L1040,1623 L900,1623 Z" fill="#e8d8d0"/>
<rect x="1089" y="1488" width="192" height="135" fill="#000"/>
<path d="M1180,1488 L1250,1488 Q1260,1520 1250,1540 L1281,1570 L1281,1623 L1165,1623 L1130,1590 Q1140,1570 1175,1555 Q1165,1520 1180,1488 Z" fill="#5e7e7e"/>
<path d="M1130,1600 L1281,1590 L1281,1623 L1135,1623 Z" fill="#e07aa0"/><path d="M1190,1598 L1215,1592 L1215,1608 L1195,1610 Z" fill="#9a80e0"/>
<line x1="1304" y1="1350" x2="1304" y2="1630" stroke="#333" stroke-width="2" stroke-dasharray="6,5"/>
<rect x="1325" y="1349" width="434" height="276" fill="#000"/>
<g stroke="#888" stroke-width="1.5">
<line x1="1387" y1="1349" x2="1387" y2="1625"/><line x1="1449" y1="1349" x2="1449" y2="1625"/><line x1="1511" y1="1349" x2="1511" y2="1625"/><line x1="1573" y1="1349" x2="1573" y2="1625"/><line x1="1635" y1="1349" x2="1635" y2="1625"/><line x1="1697" y1="1349" x2="1697" y2="1625"/>
<line x1="1325" y1="1388" x2="1759" y2="1388"/><line x1="1325" y1="1428" x2="1759" y2="1428"/><line x1="1325" y1="1467" x2="1759" y2="1467"/><line x1="1325" y1="1507" x2="1759" y2="1507"/><line x1="1325" y1="1546" x2="1759" y2="1546"/><line x1="1325" y1="1586" x2="1759" y2="1586"/>
</g>
<g>
<rect x="1590" y="1375" width="12" height="8" fill="#2aa0c8"/><rect x="1630" y="1372" width="16" height="12" fill="#3ab0e0"/><rect x="1665" y="1374" width="10" height="8" fill="#3a90e0"/><rect x="1725" y="1376" width="8" height="8" fill="#3a90e0"/>
<rect x="1665" y="1414" width="10" height="8" fill="#3a90e0"/><rect x="1725" y="1414" width="8" height="8" fill="#3a90e0"/>
<path d="M1528,1445 L1545,1435 L1555,1465 L1525,1465 Z" fill="#6a9a9a"/><path d="M1588,1445 L1605,1435 L1612,1465 L1585,1465 Z" fill="#5a80a8"/><rect x="1665" y="1455" width="8" height="8" fill="#3a90e0"/><rect x="1725" y="1455" width="8" height="8" fill="#3a90e0"/>
<path d="M1528,1485 L1545,1475 L1555,1505 L1525,1505 Z" fill="#8a8a8a"/><path d="M1588,1485 L1605,1475 L1612,1505 L1585,1505 Z" fill="#8a80b0"/><rect x="1665" y="1494" width="8" height="8" fill="#8a70d0"/><rect x="1725" y="1494" width="8" height="8" fill="#8a70d0"/>
<path d="M1528,1525 L1545,1515 L1555,1545 L1525,1545 Z" fill="#d08080"/><path d="M1588,1525 L1605,1515 L1612,1545 L1585,1545 Z" fill="#b080a0"/><rect x="1665" y="1535" width="8" height="8" fill="#b070d0"/><rect x="1725" y="1535" width="8" height="8" fill="#b070d0"/>
<rect x="1526" y="1572" width="22" height="10" fill="#e07aa0"/><rect x="1588" y="1572" width="22" height="10" fill="#e07aa0"/><rect x="1650" y="1572" width="14" height="10" fill="#d070c0"/><rect x="1712" y="1574" width="10" height="8" fill="#d070c0"/>
<rect x="1466" y="1614" width="22" height="10" fill="#f08060"/><rect x="1526" y="1614" width="22" height="10" fill="#e07070"/><rect x="1588" y="1614" width="22" height="10" fill="#e07aa0"/><rect x="1650" y="1614" width="20" height="10" fill="#e070c0"/><rect x="1712" y="1614" width="12" height="10" fill="#d070c0"/>
</g>

<!-- Tables -->
<rect x="1769" y="1119" width="710" height="87" fill="#c5d8f5"/>
<rect x="1769" y="1346" width="710" height="86" fill="#c5d8f5"/>
<g stroke="#1a56d6" stroke-width="3">
<line x1="1769" y1="1119" x2="2479" y2="1119"/>
<line x1="1769" y1="1206" x2="2479" y2="1206"/>
<line x1="1769" y1="1345" x2="2479" y2="1345"/>
<line x1="1769" y1="1432" x2="2479" y2="1432"/>
<line x1="1769" y1="1119" x2="1769" y2="1645"/>
</g>
<g stroke="#1a56d6" stroke-width="1.5">
<line x1="2098" y1="1119" x2="2098" y2="1344"/><line x1="2198" y1="1119" x2="2198" y2="1344"/>
<line x1="2154" y1="1346" x2="2154" y2="1645"/><line x1="2154" y1="1382" x2="2479" y2="1382"/>
</g>
<rect x="1779" y="1306" width="692" height="34" fill="none" stroke="#cc0000" stroke-width="3"/>
<rect x="1779" y="1606" width="692" height="34" fill="none" stroke="#cc0000" stroke-width="3"/>
<g font-size="28" fill="#111" text-anchor="middle">
<g font-weight="bold">
<text x="1933" y="1165">Results on</text>
<text x="1933" y="1199">VidSTG [6] dataset</text>
<text x="2147" y="1194">Mode</text>
<text x="2275" y="1154">Captioning</text>
<text x="2275" y="1194">accuracy</text>
<text x="2416" y="1154">Overall</text>
<text x="2416" y="1194">accuracy</text>
<text x="1962" y="1391">Results on</text>
<text x="1962" y="1425">BURST [8] dataset</text>
<text x="2317" y="1377">Accuracy</text>
</g>
<text x="2212" y="1420">Unseen</text><text x="2324" y="1420">Overall</text><text x="2429" y="1420">Seen</text>
<text x="1933" y="1240">DenseVOC-DS (JT) [7]</text><text x="2147" y="1240">offline</text><text x="2275" y="1240">36.8</text><text x="2416" y="1240">51.6</text>
<text x="1933" y="1286">DenseVOC-DS (DJT) [7]</text><text x="2147" y="1286">offline</text><text x="2275" y="1286">10.0</text><text x="2416" y="1286">28.0</text>
<text x="1933" y="1332">Ours+CAROQ [1]</text><text x="2147" y="1332">online</text><text x="2275" y="1332" font-weight="bold">43.9</text><text x="2416" y="1332" font-weight="bold">53.1</text>
<text x="1962" y="1463">OWTB [9]</text><text x="2212" y="1463">38.8</text><text x="2324" y="1463">55.8</text><text x="2429" y="1463">59.8</text>
<text x="1962" y="1505">Mask2Former [10]+STCN [11]</text><text x="2212" y="1505">25.0</text><text x="2324" y="1505">64.6</text><text x="2429" y="1505">71.0</text>
<text x="1962" y="1548">Mask2Former [10]+DEVA [12]</text><text x="2212" y="1548">42.3</text><text x="2324" y="1548" font-weight="bold">69.5</text><text x="2429" y="1548" font-weight="bold">74.6</text>
<text x="1962" y="1591">EntitySeg [13]+DEVA [12]</text><text x="2212" y="1591" text-decoration="underline">49.6</text><text x="2324" y="1591">68.8</text><text x="2429" y="1591">72.7</text>
<text x="1962" y="1634">Ours+DEVA [12]</text><text x="2212" y="1634" font-weight="bold">55.2</text><text x="2324" y="1634" text-decoration="underline">69.0</text><text x="2429" y="1634" text-decoration="underline">73.5</text>
</g>
</svg>
</body></html>
